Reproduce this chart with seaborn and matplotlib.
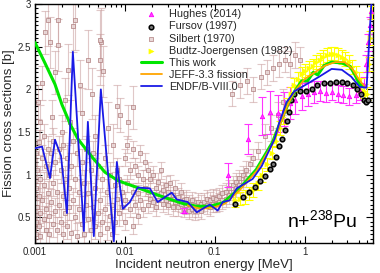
import matplotlib
matplotlib.use("Agg")
import matplotlib.pyplot as plt
import matplotlib.ticker as mticker
import seaborn as sns

# ---- data (energy in MeV, cross section in b) ----

# Hughes (2014)
hughes_e = [0.045, 0.139, 0.232, 0.333, 0.41, 0.50, 0.585, 0.68, 0.79, 0.93, 1.08, 1.26,
            1.47, 1.72, 2.0, 2.33, 2.71, 3.16, 3.69, 4.19, 4.64, 4.89, 5.14, 5.3, 5.45]
hughes_sig = [0.58, 1.00, 1.42, 1.69, 1.73, 1.72, 1.77, 1.84, 1.88, 1.92, 1.95, 1.97,
              1.98, 1.96, 1.97, 1.95, 1.94, 1.92, 1.94, 1.98, 2.05, 2.3, 2.55, 2.75, 2.92]
hughes_err = [0.03, 0.14, 0.18, 0.22, 0.25, 0.22, 0.2, 0.19, 0.17, 0.16, 0.14, 0.13,
              0.12, 0.11, 0.1, 0.1, 0.1, 0.1, 0.1, 0.1, 0.1, 0.1, 0.1, 0.1, 0.1]

# Fursov (1997)
fursov_e = [0.167, 0.205, 0.24, 0.278, 0.316, 0.359, 0.408, 0.441, 0.476, 0.514, 0.556,
            0.60, 0.631, 0.665, 0.70, 0.755, 0.88, 1.03, 1.20, 1.39, 1.63, 1.90, 2.21,
            2.58, 3.0, 3.5, 3.88, 4.30, 4.64, 4.89, 5.14]
fursov_sig = [0.66, 0.74, 0.80, 0.86, 0.93, 0.98, 1.07, 1.13, 1.21, 1.34, 1.42,
              1.53, 1.63, 1.74, 1.88, 1.95, 1.98, 1.98, 2.0, 2.05, 2.07, 2.08, 2.09,
              2.09, 2.07, 2.05, 2.0, 1.95, 1.88, 1.85, 1.88]

# Silbert (1970): sparse high points at low energy
silbert_hi_e = [0.00139, 0.00180, 0.00147, 0.00180, 0.00278, 0.00264, 0.00129, 0.00120,
                0.00215, 0.00232, 0.00167, 0.00388, 0.00541, 0.00569, 0.00815, 0.0123,
                0.0108, 0.0088, 0.00333, 0.00316, 0.00245, 0.00108, 0.00114, 0.00155,
                0.00200, 0.00430, 0.00464, 0.00647, 0.00736, 0.00527, 0.00527]
silbert_hi_sig = [2.81, 2.81, 2.55, 2.52, 2.81, 2.74, 2.67, 2.08,
                  1.88, 2.23, 2.20, 2.35, 2.56, 2.21, 1.80, 1.79,
                  1.62, 1.70, 1.72, 2.05, 1.62, 1.85, 1.62, 1.68,
                  1.50, 1.95, 1.45, 1.55, 1.35, 2.58, 2.35]
silbert_hi_err = [0.3, 0.3, 0.3, 0.3, 0.35, 0.3, 0.25, 0.2,
                  0.25, 0.3, 0.25, 0.35, 0.4, 0.3, 0.25, 0.25,
                  0.2, 0.2, 0.3, 0.3, 0.25, 0.2, 0.2, 0.2,
                  0.2, 0.3, 0.25, 0.3, 0.25, 0.35, 0.3]

# Silbert (1970): dense cloud 1-10 keV
silbert_lo_e = [0.00102, 0.00102, 0.00102, 0.00102, 0.00106, 0.00106, 0.00110, 0.00110, 0.00110,
                0.00115, 0.00115, 0.00115, 0.00120, 0.00120, 0.00126, 0.00126, 0.00126,
                0.00132, 0.00132, 0.00132, 0.00138, 0.00138, 0.00145, 0.00145, 0.00145,
                0.00152, 0.00152, 0.00160, 0.00160, 0.00160, 0.00168, 0.00168, 0.00176, 0.00176,
                0.00185, 0.00185, 0.00195, 0.00195, 0.00205, 0.00205, 0.00205, 0.00215, 0.00215,
                0.00228, 0.00228, 0.00240, 0.00240, 0.00252, 0.00252, 0.00265, 0.00265,
                0.00280, 0.00280, 0.00295, 0.00295, 0.00310, 0.00310, 0.00330, 0.00330,
                0.00350, 0.00350, 0.00370, 0.00370, 0.00390, 0.00390, 0.00415, 0.00415,
                0.00440, 0.00440, 0.00470, 0.00470, 0.00500, 0.00500, 0.00530, 0.00530,
                0.00560, 0.00560, 0.00600, 0.00600, 0.00640, 0.00640, 0.00680, 0.00680,
                0.00720, 0.00720, 0.00770, 0.00770, 0.00820, 0.00820, 0.00870, 0.00870,
                0.00930, 0.00930]
silbert_lo_sig = [1.25, 0.85, 0.45, 0.30, 1.05, 0.62, 1.38, 0.75, 0.40,
                  0.95, 0.55, 0.28, 1.20, 0.70, 1.45, 0.88, 0.48,
                  1.10, 0.60, 0.35, 1.30, 0.78, 1.00, 0.52, 0.30,
                  1.25, 0.68, 1.40, 0.90, 0.42, 1.15, 0.58, 0.80, 0.35,
                  1.30, 0.65, 1.05, 0.45, 1.35, 0.75, 0.30, 0.95, 0.55,
                  1.20, 0.40, 0.85, 0.62, 1.10, 0.32, 1.40, 0.70,
                  0.95, 0.50, 1.25, 0.28, 0.80, 0.60, 1.15, 0.42,
                  0.90, 0.30, 1.30, 0.65, 0.78, 0.48, 1.05, 0.35,
                  0.62, 1.25, 0.85, 0.40, 1.10, 0.55, 0.70, 0.30,
                  0.95, 0.45, 0.60, 1.20, 0.80, 0.38, 1.00, 0.52,
                  0.65, 0.30, 0.88, 0.45, 0.72, 1.05, 0.55, 0.95,
                  0.80, 0.62]
silbert_lo_err = 0.15

# Silbert (1970): 10 keV - 0.3 MeV
silbert_mid_e = [0.0100, 0.0100, 0.0100, 0.0107, 0.0107, 0.0114, 0.0114, 0.0122, 0.0122, 0.0122,
                 0.0130, 0.0130, 0.0139, 0.0139, 0.0139, 0.0148, 0.0148, 0.0158, 0.0158,
                 0.0168, 0.0168, 0.0180, 0.0180, 0.0180, 0.0192, 0.0192, 0.0205, 0.0205,
                 0.0220, 0.0220, 0.0235, 0.0235, 0.0250, 0.0250, 0.0265, 0.0265,
                 0.0285, 0.0285, 0.0300, 0.0300, 0.0320, 0.0320, 0.0340, 0.0340,
                 0.0365, 0.0365, 0.0390, 0.0390, 0.0420, 0.0420, 0.0450, 0.0450,
                 0.0480, 0.0480, 0.0520, 0.0520, 0.0560, 0.0560, 0.0600, 0.0600,
                 0.0650, 0.0650, 0.0700, 0.0700, 0.0760, 0.0820, 0.0820, 0.0880, 0.0880,
                 0.0950, 0.0950, 0.103, 0.103, 0.112, 0.112, 0.122, 0.122, 0.132, 0.132,
                 0.145, 0.145, 0.158, 0.158, 0.172, 0.172, 0.188, 0.188, 0.205, 0.205,
                 0.225, 0.225, 0.245, 0.27, 0.30]
silbert_mid_sig = [1.20, 0.70, 0.45, 0.90, 1.35, 0.60, 1.05, 0.40, 1.30, 0.80,
                   1.10, 0.65, 1.00, 0.52, 0.78, 1.25, 0.70, 0.95, 0.60,
                   1.15, 0.85, 0.80, 0.65, 1.05, 0.95, 0.72, 1.00, 0.68,
                   0.85, 0.62, 0.92, 0.70, 1.05, 0.78, 0.82, 0.66,
                   0.88, 0.70, 0.80, 0.64, 0.90, 0.72, 0.76, 0.62,
                   0.84, 0.68, 0.74, 0.62, 0.80, 0.66, 0.70, 0.60,
                   0.72, 0.64, 0.66, 0.58, 0.70, 0.60, 0.64, 0.57,
                   0.68, 0.60, 0.66, 0.58, 0.68, 0.64, 0.72, 0.70, 0.62,
                   0.73, 0.66, 0.72, 0.66, 0.75, 0.68, 0.78, 0.70, 0.80, 0.72,
                   0.84, 0.76, 0.88, 0.80, 0.92, 0.84, 0.96, 0.88, 1.00, 0.92,
                   1.06, 0.96, 1.12, 1.20, 1.28]
silbert_mid_err = 0.1

# Silbert (1970): points above the curve around 0.15-0.9 MeV
silbert_up_e = [0.155, 0.19, 0.23, 0.27, 0.33, 0.38, 0.45, 0.52, 0.60, 0.68, 0.78, 0.88,
                0.36, 0.42, 0.50, 0.58]
silbert_up_sig = [1.95, 2.05, 2.10, 2.00, 2.15, 2.20, 2.25, 2.30, 2.35, 2.30, 2.40, 2.35,
                  1.45, 1.55, 1.70, 1.85]
silbert_up_err = 0.15

# Budtz-Joergensen (1982)
budtz_e = [0.17, 0.19, 0.215, 0.24, 0.265, 0.30, 0.34, 0.38, 0.43, 0.48, 0.53, 0.58,
           0.64, 0.70, 0.77, 0.85, 0.93, 1.02, 1.12, 1.23, 1.35, 1.48, 1.62, 1.78, 1.95,
           2.15, 2.35, 2.6, 2.85, 3.1, 3.4, 3.7, 4.0, 4.3, 4.6, 4.9, 5.2, 5.4, 5.6]
budtz_sig = [0.70, 0.72, 0.74, 0.78, 0.82, 0.90, 1.00, 1.12, 1.26, 1.40, 1.55, 1.68,
             1.82, 1.95, 2.05, 2.12, 2.18, 2.22, 2.25, 2.28, 2.32, 2.35, 2.38, 2.40, 2.42,
             2.42, 2.40, 2.38, 2.36, 2.32, 2.26, 2.20, 2.12, 2.05, 1.98, 1.95, 2.30, 2.60, 2.90]
budtz_err = 0.08

# This work
work_e = [0.001, 0.00129, 0.00167, 0.002, 0.0025, 0.003, 0.0043, 0.006, 0.0084, 0.0129,
          0.0265, 0.045, 0.063, 0.088, 0.123, 0.19, 0.29, 0.44, 0.53, 0.65, 0.78, 0.93,
          1.08, 1.25, 1.40, 1.65, 2.0, 2.6, 3.2, 3.6, 4.1, 4.5]
work_sig = [2.55, 2.31, 2.06, 1.82, 1.58, 1.42, 1.21, 1.03, 0.93, 0.86,
            0.74, 0.66, 0.63, 0.63, 0.67, 0.84, 1.06, 1.38, 1.60, 1.82, 1.98, 2.10,
            2.10, 2.20, 2.17, 2.28, 2.32, 2.31, 2.27, 2.18, 2.06, 2.03]

# JEFF-3.3 fission
jeff_e = [0.05, 0.07, 0.1, 0.13, 0.19, 0.29, 0.44, 0.53, 0.65, 0.78, 1.0, 1.3, 1.7,
          2.2, 2.8, 3.4, 4.0, 4.6]
jeff_sig = [0.64, 0.60, 0.62, 0.66, 0.82, 1.04, 1.36, 1.58, 1.82, 1.98, 2.12, 2.20, 2.28,
            2.32, 2.32, 2.24, 2.12, 2.04]

# ENDF/B-VIII.0
endf_e = [0.001, 0.0012, 0.00147, 0.00167, 0.00195, 0.00227, 0.00264, 0.0035, 0.00388,
          0.00452, 0.00541, 0.00755, 0.00815, 0.0095, 0.0114, 0.0139, 0.019, 0.0232,
          0.0333, 0.0378, 0.0501, 0.0631, 0.088, 0.108, 0.123, 0.147, 0.176, 0.264,
          0.333, 0.464, 0.527, 0.63, 0.774, 1.05, 1.46, 2.0, 2.6, 3.3, 4.1, 4.9, 5.6]
endf_sig = [1.31, 1.33, 0.96, 1.41, 1.22, 0.55, 2.44, 0.34, 1.62,
            0.28, 2.00, 0.22, 1.15, 0.60, 0.68, 0.85, 0.84, 0.68,
            0.79, 0.71, 0.68, 0.56, 0.65, 0.58, 0.68, 0.70, 0.84, 0.95,
            1.10, 1.42, 1.62, 1.85, 1.98, 2.06, 2.15, 2.24, 2.23, 2.15, 2.03, 2.02, 3.1]

x_ticks = [0.001, 0.01, 0.1, 1]
y_ticks = [0.5, 1, 1.5, 2, 2.5, 3]

# ---- plot ----
sns.set_theme(style="ticks")
plt.rcParams['font.family'] = ['Liberation Sans', 'DejaVu Sans']
plt.rcParams['mathtext.fontset'] = 'custom'
plt.rcParams['mathtext.rm'] = 'Liberation Sans'

fig = plt.figure(figsize=(3.8, 2.73), dpi=100)
ax = fig.add_axes([0.092, 0.11, 0.89, 0.875])

silbert_col = '#c89c9c'
err_kw = dict(fmt='none', elinewidth=0.8, capsize=3, capthick=0.8)

# error bars
for e, s, err in [(silbert_lo_e, silbert_lo_sig, silbert_lo_err),
                  (silbert_hi_e, silbert_hi_sig, silbert_hi_err),
                  (silbert_mid_e, silbert_mid_sig, silbert_mid_err),
                  (silbert_up_e, silbert_up_sig, silbert_up_err)]:
    ax.errorbar(e, s, yerr=err, ecolor=silbert_col, alpha=0.55, zorder=1, **err_kw)
ax.errorbar(hughes_e, hughes_sig, yerr=hughes_err, ecolor='#ff33ff', zorder=2, **err_kw)
ax.errorbar(budtz_e, budtz_sig, yerr=budtz_err, ecolor='#ffff00', zorder=3, **err_kw)

# markers
sns.scatterplot(x=hughes_e, y=hughes_sig, marker='^', s=10, color='#ff44ff',
                edgecolor='#ff00ff', linewidth=0.6, label='Hughes (2014)', ax=ax, zorder=4)
sns.scatterplot(x=fursov_e, y=fursov_sig, marker='o', s=11, facecolor='#777777',
                edgecolor='black', linewidth=1.1, label='Fursov (1997)', ax=ax, zorder=5)
sil_e = silbert_lo_e + silbert_hi_e + silbert_mid_e + silbert_up_e
sil_s = silbert_lo_sig + silbert_hi_sig + silbert_mid_sig + silbert_up_sig
sns.scatterplot(x=sil_e, y=sil_s, marker='s', s=8, facecolor='#e6d2d2',
                edgecolor='#b08080', linewidth=0.6, alpha=0.85,
                label='Silbert (1970)', ax=ax, zorder=1.5)
sns.scatterplot(x=budtz_e, y=budtz_sig, marker='>', s=14, color='#ffff00',
                edgecolor='#ffff00', linewidth=0.3, label='Budtz-Joergensen (1982)',
                ax=ax, zorder=3.5)

# curves
sns.lineplot(x=work_e, y=work_sig, color='#00e600', lw=2.2, estimator=None, sort=False,
             label='This work', ax=ax, zorder=6)
sns.lineplot(x=jeff_e, y=jeff_sig, color='#ffa500', lw=1.3, estimator=None, sort=False,
             label='JEFF-3.3 fission', ax=ax, zorder=6.5)
sns.lineplot(x=endf_e, y=endf_sig, color='#1a1ae6', lw=1.3, estimator=None, sort=False,
             label='ENDF/B-VIII.0', ax=ax, zorder=7)

ax.set_xscale('log')
ax.set_xlim(0.001, 5.8)
ax.set_ylim(0.2, 3.0)
ax.set_xticks(x_ticks)
ax.xaxis.set_major_formatter(mticker.FuncFormatter(lambda v, p: '%g' % v))
ax.xaxis.set_minor_locator(mticker.LogLocator(base=10, subs=range(2, 10), numticks=20))
ax.xaxis.set_minor_formatter(mticker.NullFormatter())
ax.set_yticks(y_ticks)
ax.yaxis.set_major_formatter(mticker.FuncFormatter(lambda v, p: '%g' % v))
ax.yaxis.set_minor_locator(mticker.MultipleLocator(0.05))

ax.tick_params(which='both', direction='in', top=True, right=True, labelsize=7,
               color='black', width=0.8, pad=3)
ax.tick_params(which='major', length=5)
ax.tick_params(which='minor', length=2.5)
for sp in ax.spines.values():
    sp.set_color('black')
    sp.set_linewidth(1.0)

ax.set_xlabel('Incident neutron energy [MeV]', fontsize=9.5, labelpad=1)
ax.set_ylabel('Fission cross sections [b]', fontsize=9.5, labelpad=2)

ax.text(0.745, 0.045, r'n+$^{238}$Pu', transform=ax.transAxes, fontsize=14,
        ha='left', va='bottom', color='black')

ax.legend(loc='upper left', bbox_to_anchor=(0.29, 1.01), frameon=False, fontsize=7.8,
          handlelength=2.0, handletextpad=0.6, labelspacing=0.2, borderpad=0.2,
          markerscale=1.0)

plt.savefig('out.png', dpi=100)
